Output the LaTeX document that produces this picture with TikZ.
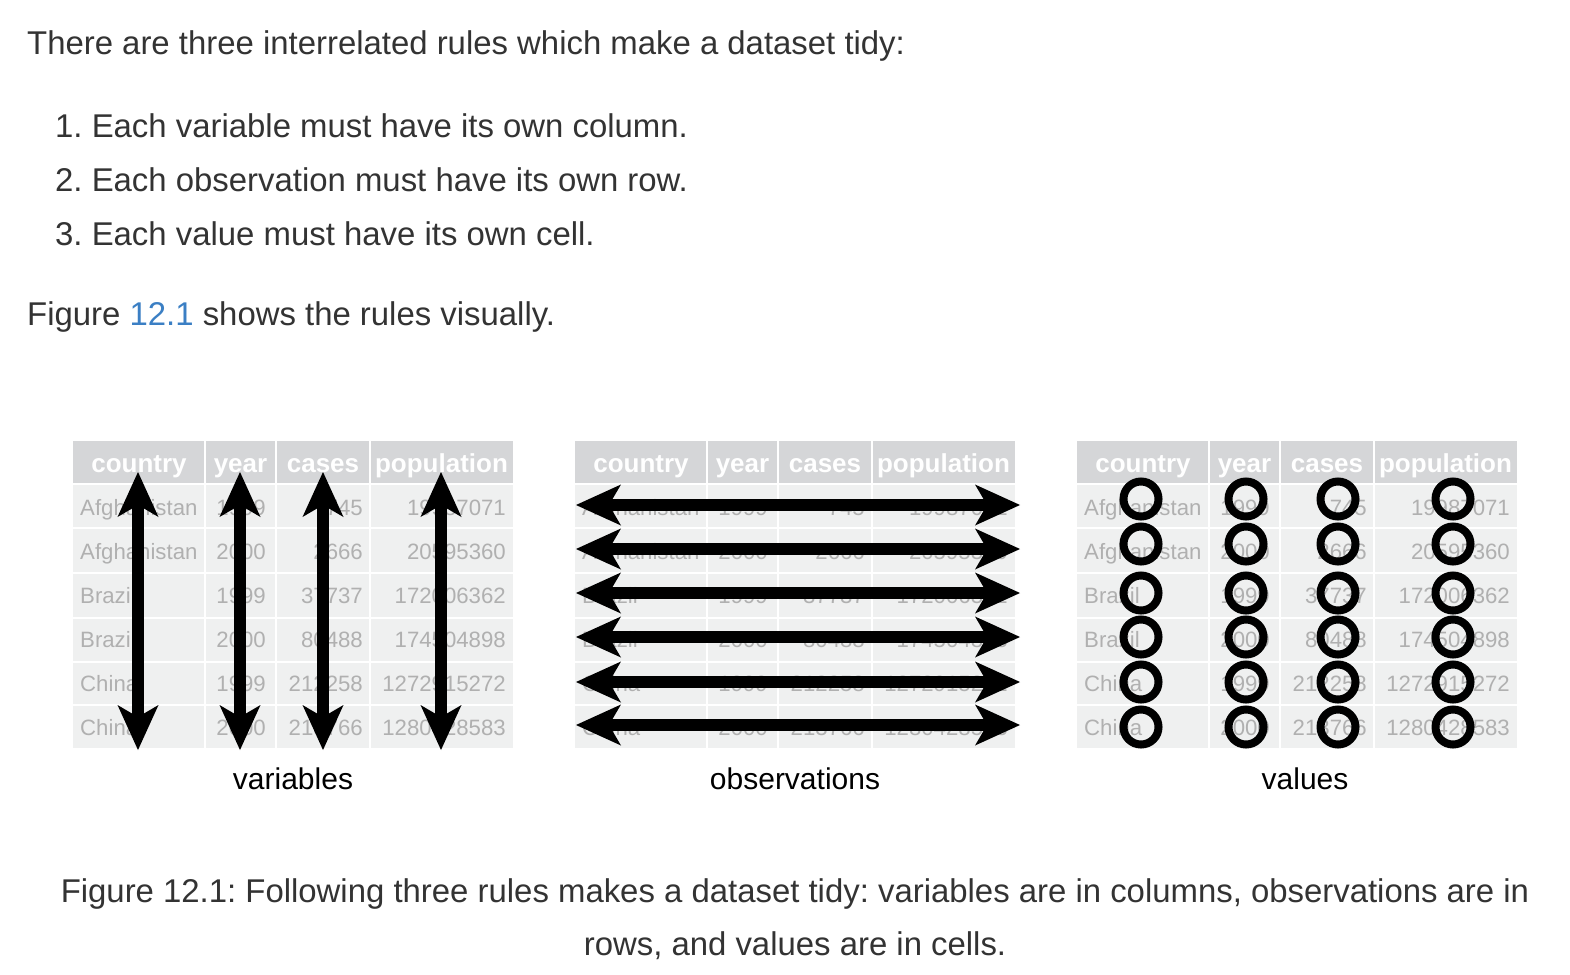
\documentclass[tikz,border=0pt]{standalone}
\usepackage{fontspec}
\setmainfont{Liberation Sans}
\usetikzlibrary{arrows.meta}
\definecolor{txt}{HTML}{333333}
\definecolor{lnk}{HTML}{3B7FC4}
\definecolor{hdr}{HTML}{D5D6D8}
\definecolor{bdy}{HTML}{EFF0F0}
\definecolor{cel}{HTML}{B0B0B0}
\tikzset{
  para/.style={anchor=base west, text=txt, inner sep=0pt, font=\fontsize{32.9}{40}\selectfont},
  capt/.style={anchor=base, text=txt, inner sep=0pt, font=\fontsize{32.9}{40}\selectfont},
  hd/.style={anchor=base, text=white, inner sep=0pt, font=\bfseries\fontsize{26}{30}\selectfont},
  cellL/.style={anchor=base west, text=cel, inner sep=0pt, font=\fontsize{22.2}{26}\selectfont},
  cellR/.style={anchor=base east, text=cel, inner sep=0pt, font=\fontsize{22.2}{26}\selectfont},
  lbl/.style={anchor=base, text=black, inner sep=0pt, font=\fontsize{30}{36}\selectfont},
  dbl/.style={line width=11.5pt, {Stealth[length=45pt,width=41pt,inset=12pt,line width=0pt]}-{Stealth[length=45pt,width=41pt,inset=12pt,line width=0pt]}},
  ring/.style={circle, draw=black, line width=8pt, minimum size=35pt, inner sep=0pt},
  sep/.style={white, line width=1.5pt}
}
\begin{document}
\frenchspacing
\begin{tikzpicture}[x=1pt,y=-1pt]
\useasboundingbox[fill=white] (0,0) rectangle (1570,974);

% paragraph text
\node[para] (p0) at (27,55) {There are three interrelated rules which make a dataset tidy:};
\node[para] (p1) at (55,137) {1. Each variable must have its own column.};
\node[para] (p2) at (55,191) {2. Each observation must have its own row.};
\node[para] (p3) at (55,245) {3. Each value must have its own cell.};
\node[para] (p4) at (27,325) {Figure \textcolor{lnk}{12.1} shows the rules visually.};

% tables
\foreach \t/\ox in {1/0,2/502,3/1004}{
  \fill[bdy] (73+\ox,441) rectangle (513+\ox,748);
  \fill[hdr] (73+\ox,441) rectangle (513+\ox,484);
  \foreach \cx in {205,276,370}{\draw[sep] (\cx+\ox,441) -- (\cx+\ox,748);}
  \foreach \ry in {484,528,573,618,662,705}{\draw[sep] (73+\ox,\ry) -- (513+\ox,\ry);}
  \node[hd] (h\t a) at (139+\ox,472) {country};
  \node[hd] (h\t b) at (240.5+\ox,472) {year};
  \node[hd] (h\t c) at (323+\ox,472) {cases};
  \node[hd] (h\t d) at (441.5+\ox,472) {population};
  \foreach \co/\yr/\ca/\po [count=\i] in {Afghanistan/1999/745/19987071,Afghanistan/2000/2666/20595360,Brazil/1999/37737/172006362,Brazil/2000/80488/174504898,China/1999/212258/1272915272,China/2000/213766/1280428583}{
    \pgfmathsetmacro{\yb}{484+44*(\i-1)+31}
    \node[cellL] (r\t-\i a) at (80+\ox,\yb) {\co};
    \node[cellR] (r\t-\i b) at (266+\ox,\yb) {\yr};
    \node[cellR] (r\t-\i c) at (363+\ox,\yb) {\ca};
    \node[cellR] (r\t-\i d) at (506+\ox,\yb) {\po};
  }
}

% variables: vertical arrows
\foreach \x [count=\i] in {138,240,323,441}{
  \coordinate (vt\i) at (\x,472);
  \coordinate (vb\i) at (\x,750);
  \draw[dbl] (vb\i) -- (vt\i);
}

% observations: horizontal arrows
\foreach \y [count=\i] in {505,549,593,637,682,725}{
  \coordinate (hl\i) at (576,\y);
  \coordinate (hr\i) at (1020,\y);
  \draw[dbl] (hl\i) -- (hr\i);
}

% values: rings
\foreach \x [count=\j] in {1141,1246,1338,1453}{
  \foreach \y [count=\i] in {499,544,593,637,682,727}{
    \node[ring] (c\i-\j) at (\x,\y) {};
  }
}

% labels
\node[lbl] (l1) at (293,789) {variables};
\node[lbl] (l2) at (795,789) {observations};
\node[lbl] (l3) at (1305,789) {values};

% caption
\node[capt] (cap1) at (795,902) {Figure 12.1: Following three rules makes a dataset tidy: variables are in columns, observations are in};
\node[capt] (cap2) at (795,955) {rows, and values are in cells.};
\end{tikzpicture}
\end{document}
